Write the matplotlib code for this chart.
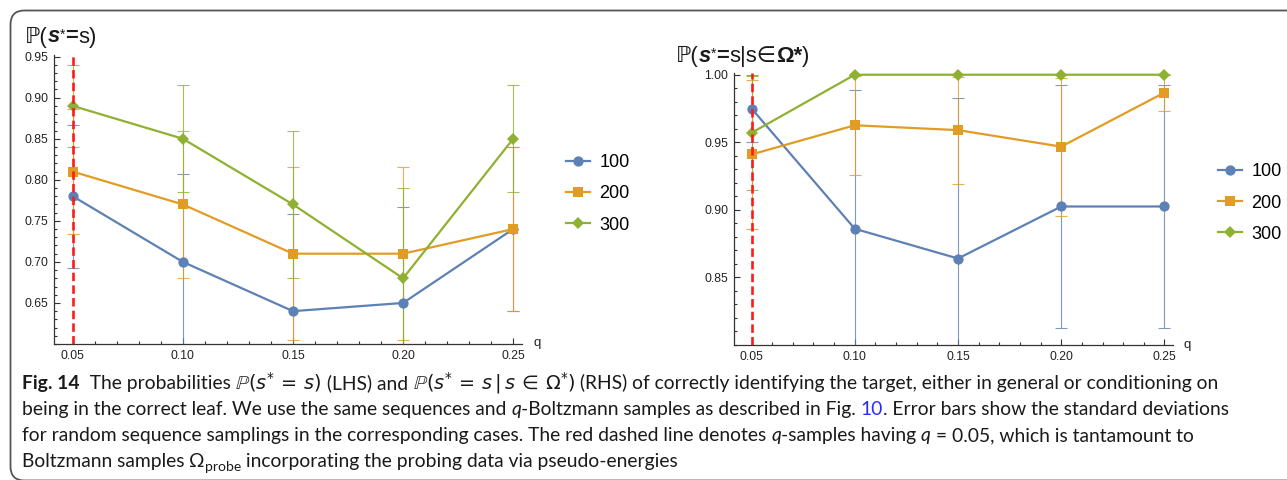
import matplotlib
matplotlib.use("Agg")
import matplotlib.pyplot as plt
from matplotlib.font_manager import FontProperties
from matplotlib.patches import FancyBboxPatch
from matplotlib.lines import Line2D
from matplotlib.ticker import MultipleLocator, FormatStrFormatter
from matplotlib.transforms import IdentityTransform

W, H = 1287, 480

# q values and sample sizes
q = [0.05, 0.10, 0.15, 0.20, 0.25]
sizes = ["100", "200", "300"]

# LHS: P(s* = s), mean and std over sequence samplings
lhs_100 = [0.78, 0.70, 0.64, 0.65, 0.74]
lhs_200 = [0.81, 0.77, 0.71, 0.71, 0.74]
lhs_300 = [0.89, 0.85, 0.77, 0.68, 0.85]
lhs_100_sd = [0.087, 0.107, 0.118, 0.117, 0.10]
lhs_200_sd = [0.076, 0.09, 0.105, 0.105, 0.10]
lhs_300_sd = [0.05, 0.065, 0.09, 0.11, 0.065]

# RHS: P(s* = s | s in Omega*)
rhs_100 = [0.975, 0.886, 0.864, 0.9025, 0.9025]
rhs_200 = [0.941, 0.9626, 0.959, 0.9468, 0.9868]
rhs_300 = [0.957, 1.0, 1.0, 1.0, 1.0]
rhs_100_sd = [0.025, 0.1025, 0.119, 0.0897, 0.0897]
rhs_200_sd = [0.055, 0.0367, 0.0396, 0.051, 0.0134]
rhs_300_sd = [0.042, 0.0, 0.0, 0.0, 0.0]

COLORS = ["#5E81B5", "#E19C24", "#8FB131"]
MARKERS = ["o", "s", "D"]
MSIZES = [7.4, 7.8, 6.0]
AXC = "#333333"

fig = plt.figure(figsize=(W / 100, H / 100), dpi=100)


def panel(rect, means, sds, ylim, ymajor, qlab_xy):
    ax = fig.add_axes([rect[0] / W, 1 - rect[3] / H, (rect[2] - rect[0]) / W, (rect[3] - rect[1]) / H])
    for m, s, c in zip(means, sds, COLORS):
        ax.errorbar(q, m, yerr=s, fmt="none", ecolor=c, elinewidth=0.8, capsize=4,
                    capthick=0.8, alpha=0.8, zorder=2)
    for m, c, mk, ms in zip(means, COLORS, MARKERS, MSIZES):
        ax.plot(q, m, color=c, lw=1.6, marker=mk, ms=ms, mew=0, zorder=3, clip_on=False)
    ax.axvline(0.05, color="#ff1a1a", lw=1.9, ls=(0, (3.2, 1.6)), zorder=5)
    ax.set_xlim(0.0415, 0.254)
    ax.set_ylim(*ylim)
    ax.set_xticks(q)
    ax.set_yticks(ymajor)
    ax.xaxis.set_minor_locator(MultipleLocator(0.01))
    ax.yaxis.set_minor_locator(MultipleLocator(0.01))
    ax.xaxis.set_major_formatter(FormatStrFormatter("%.2f"))
    ax.yaxis.set_major_formatter(FormatStrFormatter("%.2f"))
    for sp in ("top", "right"):
        ax.spines[sp].set_visible(False)
    for sp in ("left", "bottom"):
        ax.spines[sp].set_color(AXC)
        ax.spines[sp].set_linewidth(0.9)
    ax.tick_params(which="both", direction="in", color=AXC, width=0.8,
                   labelsize=8.8, labelcolor="#222222", labelfontfamily="Liberation Sans")
    ax.tick_params(which="major", length=4.5, pad=4)
    ax.tick_params(which="minor", length=2.5)
    ax.set_facecolor("none")
    fig.text(qlab_xy[0] / W, 1 - qlab_xy[1] / H, "q", fontsize=9.5, family="Liberation Sans",
             color="#222222", ha="left", va="center")
    return ax


axL = panel((54, 55, 522, 344), [lhs_100, lhs_200, lhs_300],
            [lhs_100_sd, lhs_200_sd, lhs_300_sd], (0.60, 0.952),
            [0.65, 0.70, 0.75, 0.80, 0.85, 0.90, 0.95], (533, 343))
axR = panel((734, 72.7, 1172.7, 345), [rhs_100, rhs_200, rhs_300],
            [rhs_100_sd, rhs_200_sd, rhs_300_sd], (0.80, 1.0015),
            [0.85, 0.90, 0.95, 1.00], (1184, 345))

handles = [Line2D([], [], color=c, lw=1.6, marker=mk, ms=ms, mew=0)
           for c, mk, ms in zip(COLORS, MARKERS, MSIZES)]
for x, y in ((557, 194), (1209, 203)):
    fig.legend(handles, sizes, loc="center left", bbox_to_anchor=(x / W, 1 - y / H),
               frameon=False, borderpad=0, handlelength=1.35, handletextpad=0.5,
               labelspacing=0.78, prop=FontProperties(family="Liberation Sans", size=13))

# rounded frame around figure + caption
frame = FancyBboxPatch((10.5, -0.5), 1300, 470, boxstyle="round,pad=0,rounding_size=14",
                       transform=IdentityTransform(), fill=False, ec="#555555", lw=1.3)
fig.add_artist(frame)

renderer = fig.canvas.get_renderer()


def fp(size, weight="normal", style="normal", family=("Lato", "DejaVu Sans")):
    return FontProperties(family=list(family), size=size, weight=weight, style=style)


def advance(s, prop, math):
    if math:
        return renderer.get_text_width_height_descent(s, prop, ismath=True)[0]
    a = renderer.get_text_width_height_descent(s + "l", prop, ismath=False)[0]
    b = renderer.get_text_width_height_descent("l", prop, ismath=False)[0]
    return a - b


def put(x, y, pieces):
    for s, prop, kw in pieces:
        kw = dict(kw)
        dy = kw.pop("dy", 0)
        math = kw.pop("math", False)
        fig.text(x / W, 1 - (y - dy) / H, s, fontproperties=prop, ha="left",
                 va="baseline", color=kw.pop("color", "#1a1a1a"))
        x += advance(s, prop, math)


# panel titles
TF = ("Liberation Sans", "DejaVu Sans")
tn, tb, tbi, ts = fp(15.8, family=TF), fp(15.8, "bold", family=TF), \
    fp(15.8, "bold", "italic", family=TF), fp(10, family=TF)
put(25, 42.5, [("ℙ(", tn, {}), ("s", tbi, {}), ("*", ts, {"dy": 4}), ("=", tb, {}), ("s)", tn, {})])
put(676, 62, [("ℙ(", tn, {}), ("s", tbi, {}), ("*", ts, {"dy": 4}), ("=", tb, {}),
              ("s|s∈", tn, {}), ("Ω*", tb, {}), (")", tn, {})])

# caption
cs = 13.9
N, B, I, S = fp(cs), fp(cs, "bold"), fp(cs, style="italic"), fp(cs * 0.72)
M = {"math": True}
put(22, 389, [("Fig. 14", B, {}), ("  The probabilities ", N, {}),
              (r"$\mathbb{P}(s^{*}\,=\,s)$", N, M), (" (LHS) and ", N, {}),
              (r"$\mathbb{P}(s^{*}\,=\,s\,|\,s\,\in\,\Omega^{*})$", N, M),
              (" (RHS) of correctly identifying the target, either in general or conditioning on", N, {})])
put(22, 415, [("being in the correct leaf. We use the same sequences and ", N, {}), ("q", I, {}),
              ("-Boltzmann samples as described in Fig. ", N, {}), ("10", N, {"color": "#2a2aff"}),
              (". Error bars show the standard deviations", N, {})])
put(22, 441, [("for random sequence samplings in the corresponding cases. The red dashed line denotes ", N, {}),
              ("q", I, {}), ("-samples having ", N, {}), ("q", I, {}),
              (" = 0.05, which is tantamount to", N, {})])
put(22, 467, [("Boltzmann samples ", N, {}), ("Ω", N, {}), ("probe", S, {"dy": -4}),
              (" incorporating the probing data via pseudo-energies", N, {})])

fig.savefig("out.png", dpi=100)
